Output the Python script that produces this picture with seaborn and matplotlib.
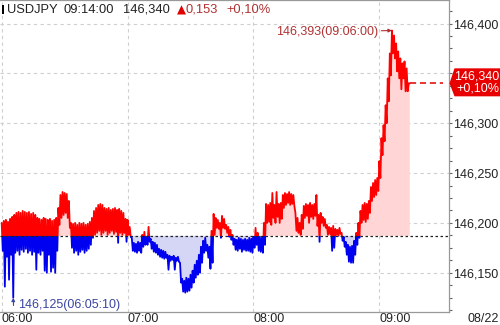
import numpy as np
import pandas as pd
import matplotlib
matplotlib.use("Agg")
import matplotlib.pyplot as plt
import seaborn as sns
from matplotlib.patches import Polygon, Rectangle
from matplotlib.ticker import MultipleLocator
from matplotlib.transforms import IdentityTransform

# ---------------- data ----------------
symbol = "USDJPY"
last_time = "09:14:00"
last_price_label = "146,340"
change_label = "0,153"
change_pct_label = "+0,10%"
prev_close = 146.187
last_price = 146.340
max_label = "146,393(09:06:00)"
min_label = "146,125(06:05:10)"
date_label = "08/22"

x_tick_minutes = [0, 60, 120, 180]
x_tick_labels = ["06:00", "07:00", "08:00", "09:00"]
y_ticks = [146.15, 146.20, 146.25, 146.30, 146.35, 146.40]
# the 146,350 label is hidden behind the last-price tag in the original
y_tick_labels = ["146,150", "146,200", "146,250", "146,300", "", "146,400"]

PRICE_BASE = 146.0
# per-minute tick range (upper / lower), thousandths above 146.000, minutes 06:00 .. 09:14
hi_milli = [
    200, 202, 203, 201, 204, 206, 208, 210, 211, 210,
    212, 211, 210, 211, 209, 210, 208, 205, 204, 203,
    205, 204, 203, 204, 202, 203, 205, 215, 228, 231,
    230, 229, 222, 200, 199, 200, 198, 200, 199, 200,
    198, 199, 201, 205, 212, 215, 218, 219, 218, 215,
    214, 215, 213, 214, 215, 213, 214, 212, 210, 204,
    203, 196, 185, 180, 179, 181, 180, 188, 191, 186,
    196, 184, 181, 180, 178, 174, 173, 172, 171, 168,
    167, 166, 167, 165, 166, 160, 144, 142, 145, 144,
    148, 152, 158, 162, 168, 176, 182, 185, 178, 176,
    192, 209, 205, 203, 200, 207, 204, 198, 196, 193,
    188, 184, 183, 185, 184, 183, 184, 183, 185, 184,
    186, 195, 190, 186, 185, 200, 219, 218, 220, 230,
    218, 231, 219, 220, 228, 230, 229, 231, 229, 228,
    210, 205, 200, 208, 217, 219, 218, 220, 218, 219,
    228, 208, 210, 206, 204, 198, 196, 195, 197, 194,
    193, 195, 190, 186, 181, 178, 176, 177, 182, 190,
    200, 212, 218, 220, 219, 222, 236, 240, 243, 245,
    262, 285, 298, 318, 345, 370, 393, 388, 380, 372,
    365, 360, 362, 355, 340,
]
lo_milli = [
    172, 136, 166, 143, 168, 125, 170, 172, 168, 173,
    171, 174, 170, 172, 168, 171, 153, 170, 168, 172,
    152, 150, 168, 151, 155, 150, 172, 198, 205, 208,
    210, 205, 195, 175, 170, 172, 168, 171, 173, 170,
    172, 174, 178, 185, 188, 190, 192, 188, 190, 192,
    188, 190, 192, 189, 191, 180, 190, 188, 190, 181,
    188, 186, 172, 171, 170, 172, 170, 176, 178, 178,
    181, 174, 171, 170, 168, 166, 165, 164, 165, 153,
    162, 163, 153, 162, 161, 140, 131, 130, 131, 132,
    135, 140, 145, 148, 150, 160, 170, 172, 165, 154,
    160, 188, 195, 194, 185, 195, 194, 190, 186, 183,
    178, 173, 172, 174, 171, 173, 172, 172, 171, 170,
    175, 178, 172, 171, 170, 178, 200, 201, 198, 205,
    200, 206, 200, 204, 215, 218, 220, 218, 219, 217,
    192, 190, 188, 194, 205, 207, 200, 206, 204, 207,
    197, 181, 200, 197, 195, 188, 189, 172, 175, 188,
    187, 189, 182, 176, 168, 161, 160, 160, 168, 178,
    185, 200, 203, 201, 204, 210, 222, 226, 228, 232,
    245, 268, 282, 300, 322, 348, 370, 365, 352, 345,
    334, 345, 332, 332, 340,
]

hi = PRICE_BASE + np.array(hi_milli) / 1000.0
lo = PRICE_BASE + np.array(lo_milli) / 1000.0
minutes = np.arange(len(hi), dtype=float)
t = np.column_stack([minutes, minutes + 0.5]).ravel()
p = np.column_stack([hi, lo]).ravel()
df = pd.DataFrame({"t": t, "price": p})

# ---------------- style ----------------
RED = "#ff0000"
BLUE = "#0000f0"
PINK = "#ffd5d5"
LAV = "#d5d5f6"
DARKRED = "#b03232"
BLUETXT = "#3a46a0"
TXT = "#222222"

sns.set_theme(style="white")
plt.rcParams["font.family"] = ["Liberation Sans", "DejaVu Sans"]

W, H = 500, 325
fig = plt.figure(figsize=(W / 100, H / 100), dpi=100)
fig.patch.set_facecolor("white")
ax = fig.add_axes([0, 13 / H, 449 / W, 312 / H])

XLIM = (-0.81, 213.2)
YLIM = (146.1106, 146.4236)

ax.fill_between(t, p, prev_close, where=p >= prev_close, interpolate=True,
                color=PINK, lw=0, zorder=1)
ax.fill_between(t, p, prev_close, where=p <= prev_close, interpolate=True,
                color=LAV, lw=0, zorder=1)

sns.lineplot(data=df, x="t", y="price", sort=False, estimator=None,
             color=RED, lw=1.3, ax=ax, zorder=2)
red_line = ax.lines[-1]
sns.lineplot(data=df, x="t", y="price", sort=False, estimator=None,
             color=BLUE, lw=1.3, ax=ax, zorder=2)
blue_line = ax.lines[-1]

ax.set_xlim(*XLIM)
ax.set_ylim(*YLIM)
ax.set_xlabel("")
ax.set_ylabel("")

up = Rectangle((XLIM[0], prev_close), XLIM[1] - XLIM[0], YLIM[1] - prev_close,
               transform=ax.transData)
dn = Rectangle((XLIM[0], YLIM[0]), XLIM[1] - XLIM[0], prev_close - YLIM[0],
               transform=ax.transData)
red_line.set_clip_path(up)
blue_line.set_clip_path(dn)

# baseline (previous close)
ax.axhline(prev_close, color=TXT, lw=0.9, ls=(0, (2, 2)), zorder=3)

# dashed extension of last price
frac_last = (t[-1] - XLIM[0]) / (XLIM[1] - XLIM[0])
ax.axhline(last_price, xmin=frac_last, xmax=0.987, color="#e00000", lw=1.1,
           ls=(0, (4, 2.5)), zorder=3)

# ticks
ax.yaxis.tick_right()
ax.set_yticks(y_ticks)
ax.set_yticklabels(y_tick_labels)
ax.yaxis.set_minor_locator(MultipleLocator(0.0125))
ax.set_xticks(x_tick_minutes)
ax.set_xticklabels(x_tick_labels, ha="left")
ax.tick_params(axis="y", which="major", direction="out", length=2.5, width=0.8,
               color="#666666", pad=0.3, labelsize=9, labelcolor=TXT)
ax.tick_params(axis="y", which="minor", direction="out", length=2.5, width=0.8,
               color="#666666")
ax.tick_params(axis="x", which="major", direction="out", length=7, width=0.8,
               color="#888888", pad=-6.0, labelsize=9, labelcolor=TXT)

ax.grid(True, which="major", axis="both", color="#cfcfcf", ls=(0, (3, 3)), lw=0.8)
ax.set_axisbelow(True)

for side in ["top", "right", "bottom"]:
    ax.spines[side].set_visible(True)
    ax.spines[side].set_color("#999999")
    ax.spines[side].set_linewidth(0.9)
ax.spines["left"].set_visible(False)

# extremes
i_max = int(np.argmax(p))
i_min = int(np.argmin(p))
ax.annotate(max_label, xy=(t[i_max], p[i_max]), xytext=(-10, -1),
            textcoords="offset points", ha="right", va="center", fontsize=9,
            color=DARKRED, zorder=5,
            arrowprops=dict(arrowstyle="-|>", color=DARKRED, lw=0.8,
                            mutation_scale=5, shrinkA=0, shrinkB=0))
ax.annotate(min_label, xy=(t[i_min], p[i_min]), xytext=(3.5, -5.3),
            textcoords="offset points", ha="left", va="center", fontsize=9,
            color=BLUETXT, zorder=5,
            arrowprops=dict(arrowstyle="-|>", color=BLUETXT, lw=0.8,
                            connectionstyle="angle,angleA=0,angleB=90,rad=0",
                            mutation_scale=5, shrinkA=1, shrinkB=0))

# right price tag
ytag = ax.transData.transform((0, last_price))[1]
tag = Polygon([(449.5, ytag), (454.5, ytag + 15), (500, ytag + 15),
               (500, ytag - 13), (454.5, ytag - 13)], closed=True,
              facecolor="#e80000", edgecolor="none", transform=IdentityTransform(),
              clip_on=False, zorder=10)
fig.add_artist(tag)
fig.text(499.5, ytag + 0.5, last_price_label + "\n" + change_pct_label,
         transform=IdentityTransform(), ha="right", va="center",
         multialignment="right", linespacing=1.0, fontsize=9, color="white",
         zorder=11)

# header
hy = 1 - 10 / H
fig.add_artist(Rectangle((2 / W, 1 - 14 / H), 2.2 / W, 9 / H, transform=fig.transFigure,
                         facecolor="black", edgecolor="none"))
fig.text(7 / W, hy, symbol, ha="left", va="center", fontsize=9.3, color=TXT)
fig.text(63 / W, hy, last_time, ha="left", va="center", fontsize=9.3, color=TXT)
fig.text(123 / W, hy, last_price_label, ha="left", va="center", fontsize=9.3, color=TXT)
fig.text(177 / W, hy, "▲", ha="left", va="center", fontsize=8.5, color="#e00000",
         family=["DejaVu Sans"])
fig.text(186 / W, hy, change_label, ha="left", va="center", fontsize=9.3, color=DARKRED)
fig.text(226 / W, hy, change_pct_label, ha="left", va="center", fontsize=9.3, color=DARKRED)

# date label
fig.text(499 / W, 1 - 319.5 / H, date_label, ha="right", va="center", fontsize=9, color=TXT)

fig.savefig("out.png", dpi=100, facecolor="white")
